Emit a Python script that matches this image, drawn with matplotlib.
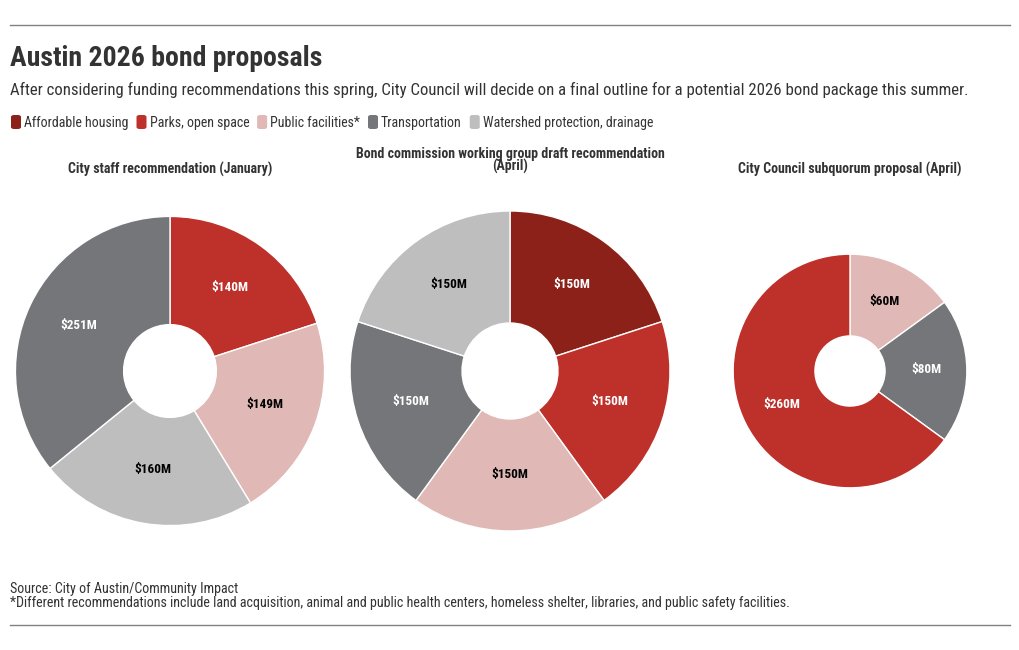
import matplotlib
matplotlib.use('Agg')
import matplotlib.pyplot as plt
import numpy as np
from matplotlib.patches import FancyBboxPatch
from matplotlib.lines import Line2D

categories = ['Affordable housing', 'Parks, open space', 'Public facilities*',
              'Transportation', 'Watershed protection, drainage']
colors = ['#8c2119', '#be312b', '#e0b8b6', '#757679', '#bebebe']
label_colors = ['white', 'white', 'black', 'white', 'black']

pie_titles = [['City staff recommendation (January)'],
              ['Bond commission working group draft recommendation', '(April)'],
              ['City Council subquorum proposal (April)']]
# values per plan, clockwise from 12 o'clock, with the category index of each slice
plan_cats = [[1, 2, 4, 3], [0, 1, 2, 3, 4], [2, 3, 1]]
plan_vals = [[140, 149, 160, 251], [150, 150, 150, 150, 150], [60, 80, 260]]

W, H = 1020, 650
plt.rcParams['font.family'] = ['Roboto Condensed', 'Roboto', 'DejaVu Sans']
fig = plt.figure(figsize=(W / 100, H / 100), dpi=100)
renderer = fig.canvas.get_renderer()
txt = '#333333'


def px(x, y):
    return x / W, 1 - y / H


fig.add_artist(Line2D([10 / W, 1010 / W], [1 - 25 / H] * 2, color='#808080', lw=1))
fig.add_artist(Line2D([10 / W, 1010 / W], [1 - 625 / H] * 2, color='#808080', lw=1))

fig.text(*px(10, 66), 'Austin 2026 bond proposals', fontsize=20, fontweight='bold',
         color=txt, va='baseline')
fig.text(*px(10, 95.5), 'After considering funding recommendations this spring, City Council will '
         'decide on a final outline for a potential 2026 bond package this summer.',
         fontsize=12.1, color=txt, va='baseline')

# legend: rounded swatches followed by labels
x = 11
for c, name in zip(colors, categories):
    fig.add_artist(FancyBboxPatch(px(x, 129), 10 / W, 14 / H,
                                  boxstyle='round,pad=0,rounding_size=0.003',
                                  facecolor=c, edgecolor='none', transform=fig.transFigure))
    t = fig.text(*px(x + 13, 127), name, fontsize=10, color=txt, va='baseline')
    x = t.get_window_extent(renderer).x1 + 8

centers = [170, 510, 850]
max_total = max(sum(v) for v in plan_vals)
for i in range(3):
    cx = centers[i]
    ax = fig.add_axes([(cx - 170) / W, 1 - (371 + 170) / H, 340 / W, 340 / H])
    vals = plan_vals[i]
    r = (sum(vals) / max_total) ** 0.5
    wedges, texts = ax.pie(vals, colors=[colors[c] for c in plan_cats[i]], startangle=90,
                           counterclock=False, radius=r,
                           wedgeprops=dict(width=0.7 * r, edgecolor='white', linewidth=1))
    for w, v, c in zip(wedges, vals, plan_cats[i]):
        ang = np.deg2rad((w.theta1 + w.theta2) / 2)
        ax.text(0.655 * r * np.cos(ang), 0.655 * r * np.sin(ang) + 0.01, f'${v}M',
                ha='center', va='center', fontsize=9.5, fontweight='bold',
                color=label_colors[c])
    ax.set_xlim(-1.0625, 1.0625)
    ax.set_ylim(-1.0625, 1.0625)
    ax.set_aspect('equal')
    ax.axis('off')
    lines = pie_titles[i]
    base = 174 if len(lines) == 1 else 158
    for k, line in enumerate(lines):
        fig.text(*px(cx, base + 12.5 * k), line, ha='center', va='baseline',
                 fontsize=10, fontweight='bold', color=txt)

fig.text(*px(10, 593), 'Source: City of Austin/Community Impact', fontsize=10.1,
         color=txt, va='baseline')
fig.text(*px(10, 607), '*Different recommendations include land acquisition, animal and public '
         'health centers, homeless shelter, libraries, and public safety facilities.',
         fontsize=10.1, color=txt, va='baseline')

fig.savefig('out.png', dpi=100)
